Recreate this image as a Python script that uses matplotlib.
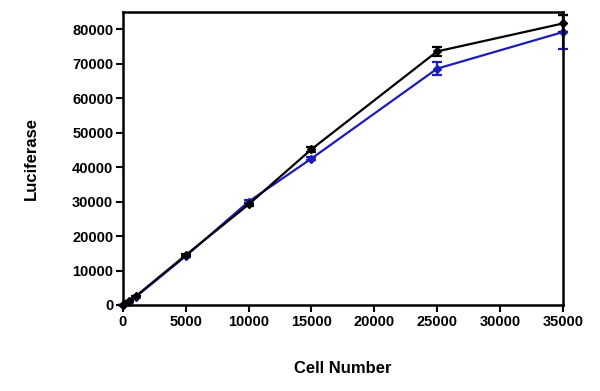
import matplotlib
matplotlib.use('Agg')
import matplotlib.pyplot as plt

plt.rcParams['font.family'] = ['Liberation Sans', 'DejaVu Sans']
plt.rcParams['font.weight'] = 'bold'

cells = [0, 500, 1000, 5000, 10000, 15000, 25000, 35000]
black_vals = [0, 1200, 2500, 14500, 29200, 45200, 73600, 81700]
black_err = [0, 0, 0, 300, 400, 700, 1200, 2400]
blue_vals = [0, 1000, 2300, 14200, 30000, 42500, 68600, 79200]
blue_err = [0, 0, 0, 300, 400, 400, 1800, 4900]

fig = plt.figure(figsize=(6, 3.91), dpi=100)
ax = fig.add_axes([0.205, 0.22, 0.733, 0.749])

for vals, err, col in [(blue_vals, blue_err, '#1c1cb8'), (black_vals, black_err, 'black')]:
    _, caps, bars = ax.errorbar(cells, vals, yerr=err, color=col, marker='D', ms=4,
                                lw=1.6, capsize=3.5, capthick=1.6, elinewidth=1.6,
                                clip_on=False)
    for c in caps:
        c.set_clip_on(False)
    for b in bars:
        b.set_clip_on(False)

ax.set_xlim(0, 35000)
ax.set_ylim(0, 85000)
ax.set_xticks([0, 5000, 10000, 15000, 20000, 25000, 30000, 35000])
ax.set_yticks(range(0, 80001, 10000))
for s in ax.spines.values():
    s.set_linewidth(1.8)
ax.tick_params(width=1.5, length=5, labelsize=10.5, pad=2)
for lab in ax.get_xticklabels() + ax.get_yticklabels():
    lab.set_fontweight('bold')

ax.set_xlabel('Cell Number', fontsize=12, fontweight='bold', labelpad=23)
ax.set_ylabel('Luciferase', fontsize=12, fontweight='bold', labelpad=24)

fig.savefig('out.png', dpi=100)
